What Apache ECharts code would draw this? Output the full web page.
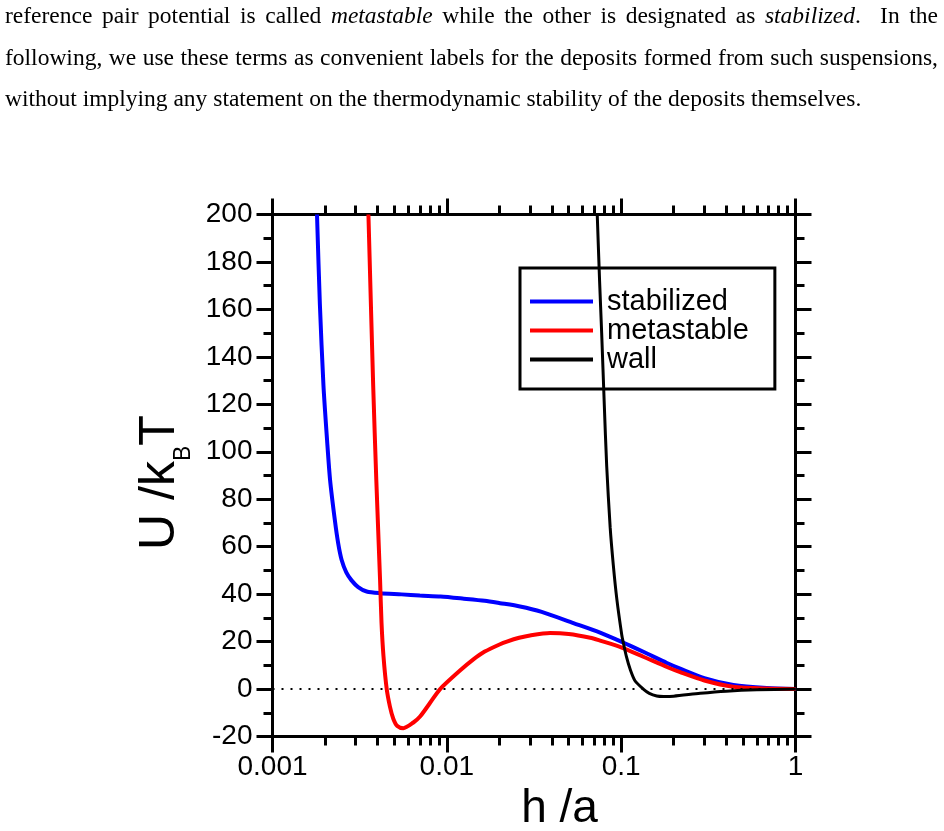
<!DOCTYPE html>
<html>
<head>
<meta charset="utf-8">
<script src="https://cdn.jsdelivr.net/npm/echarts@6/dist/echarts.min.js"></script>
<style>
  html, body { margin: 0; padding: 0; background: #fff; }
  #chart { position: absolute; left: 0; top: 0; width: 944px; height: 831px; }
  #para { position: absolute; left: 5px; top: -5px; width: 933px; font-family: 'Liberation Serif', 'DejaVu Serif', serif; font-size: 23.5px; line-height: 41.5px; color: #000; z-index: 2; }
  .j { text-align: justify; text-align-last: justify; }
  .n { white-space: nowrap; }
</style>
</head>
<body>
<div id="chart"></div>
<div id="para">
  <div class="j">reference pair potential is called <i>metastable</i> while the other is designated as <i>stabilized</i>.&nbsp; In the</div>
  <div class="j">following, we use these terms as convenient labels for the deposits formed from such suspensions,</div>
  <div class="n">without implying any statement on the thermodynamic stability of the deposits themselves.</div>
</div>
<script>
// ---------- data ----------
const seriesNames = ['stabilized', 'metastable', 'wall'];

const stabilizedH = [0.00180, 0.00187, 0.00196, 0.00206, 0.00214, 0.00228, 0.00238, 0.00249, 0.00265, 0.00284, 0.0031, 0.00347, 0.00414, 0.0055, 0.007, 0.0092, 0.0125, 0.0165, 0.0202, 0.0263, 0.035, 0.0532, 0.0757, 0.1, 0.135, 0.183, 0.218, 0.3, 0.44, 0.684, 1.0];
const stabilizedU = [200, 162, 128, 104, 88, 71, 61.5, 54.5, 49.2, 45.8, 43, 41.1, 40.4, 39.9, 39.4, 39.0, 38.1, 37.2, 36.2, 34.8, 32.5, 27.8, 23.8, 20.0, 15.6, 11.0, 8.6, 4.6, 1.7, 0.4, 0];

const metastableH = [0.00355, 0.00378, 0.00394, 0.00414, 0.00422, 0.00433, 0.00452, 0.00472, 0.00493, 0.0052, 0.00563, 0.00643, 0.00702, 0.008, 0.00915, 0.0119, 0.0142, 0.0165, 0.0202, 0.0221, 0.026, 0.03, 0.0391, 0.05, 0.0665, 0.0757, 0.1, 0.135, 0.183, 0.218, 0.3, 0.44, 0.684, 1.0];
const metastableU = [200, 128, 88, 46, 28, 14, 0, -7.5, -12.5, -15.6, -16.5, -14.1, -11.6, -5.9, 0, 7.8, 12.5, 15.8, 18.9, 20.0, 21.6, 22.6, 23.6, 23.2, 21.6, 20.4, 17.6, 13.5, 9.3, 7.1, 3.6, 1.0, 0.2, 0];

const wallH = [0.0729, 0.0752, 0.0773, 0.080, 0.0826, 0.0865, 0.0902, 0.0944, 0.1007, 0.1029, 0.1075, 0.1125, 0.12, 0.134, 0.145, 0.16, 0.175, 0.2, 0.284, 0.4, 0.6, 1.0];
const wallU = [200, 172, 150, 120, 94, 68, 52, 38, 23, 19.5, 13.3, 8.4, 3.5, 0, -1.8, -2.9, -3.1, -3.0, -1.8, -0.9, -0.3, 0];

const xMajorTicks = [0.001, 0.01, 0.1, 1];
const xTickLabels = ['0.001', '0.01', '0.1', '1'];
const xMinorTicks = [0.002, 0.003, 0.004, 0.005, 0.006, 0.007, 0.008, 0.009,
                     0.02, 0.03, 0.04, 0.05, 0.06, 0.07, 0.08, 0.09,
                     0.2, 0.3, 0.4, 0.5, 0.6, 0.7, 0.8, 0.9];
const yMin = -20, yMax = 200, yStep = 20;
const zeroLineValue = 0;

// ---------- chart ----------
const pair = (xs, ys) => xs.map((x, i) => [x, ys[i]]);
const FONT = "'Liberation Sans', Arial, sans-serif";
const axisLineStyle = { color: '#000', width: 3, cap: 'square' };
const majorTick = { show: true, length: 16, inside: false, lineStyle: { color: '#000', width: 3 } };
const LEGEND_ICON = 'path://M0,0H63V4H0Z';

const chart = echarts.init(document.getElementById('chart'), null, { renderer: 'canvas' });

function minorXAxis(position) {
  return {
    type: 'value', position: position, min: -3, max: 0, gridIndex: 0,
    axisLine: { show: false, onZero: false },
    axisTick: { show: true, length: 9, inside: false, lineStyle: { color: '#000', width: 3 },
                customValues: xMinorTicks.map(v => Math.log10(v)) },
    axisLabel: { show: false },
    splitLine: { show: false }
  };
}

const option = {
  animation: false,
  backgroundColor: '#fff',
  grid: { left: 272.5, top: 214.5, width: 523, height: 522, outerBoundsMode: 'none', containLabel: false },
  legend: {
    data: seriesNames.map(n => ({ name: n, icon: LEGEND_ICON })),
    orient: 'vertical',
    left: 520, top: 268,
    padding: [19, 26, 15, 10],
    itemGap: 0,
    itemWidth: 63,
    itemHeight: 29,
    backgroundColor: '#fff',
    borderColor: '#000',
    borderWidth: 3,
    borderRadius: 0,
    textStyle: { fontFamily: FONT, fontSize: 29, color: '#000', padding: [0, 0, 0, 9] }
  },
  xAxis: [
    {
      type: 'log', logBase: 10, min: 0.001, max: 1, position: 'bottom',
      axisLine: { show: true, onZero: false, lineStyle: axisLineStyle },
      axisTick: Object.assign({}, majorTick, { customValues: xMajorTicks }),
      axisLabel: {
        show: true, margin: 17, fontFamily: FONT, fontSize: 28, color: '#000',
        customValues: xMajorTicks,
        formatter: v => xTickLabels[Math.round(Math.log10(v)) + 3]
      },
      splitLine: { show: false },
      name: 'h /a', nameLocation: 'middle', nameGap: 50,
      nameTextStyle: { fontFamily: FONT, fontSize: 46, color: '#000', padding: [0, 0, 0, 51] }
    },
    {
      type: 'log', logBase: 10, min: 0.001, max: 1, position: 'top',
      axisLine: { show: true, onZero: false, lineStyle: axisLineStyle },
      axisTick: Object.assign({}, majorTick, { customValues: xMajorTicks }),
      axisLabel: { show: false },
      splitLine: { show: false }
    },
    minorXAxis('bottom'),
    minorXAxis('top')
  ],
  yAxis: [
    {
      type: 'value', min: yMin, max: yMax, interval: yStep, position: 'left',
      axisLine: { show: true, onZero: false, lineStyle: axisLineStyle },
      axisTick: majorTick,
      minorTick: { show: true, splitNumber: 2, length: 9, lineStyle: { color: '#000', width: 3 } },
      axisLabel: { show: true, margin: 20, fontFamily: FONT, fontSize: 28, color: '#000' },
      splitLine: { show: false },
      name: 'U /k{sub|B}T', nameLocation: 'middle', nameRotate: 90, nameGap: 75,
      nameTextStyle: {
        fontFamily: FONT, fontSize: 50, color: '#000', padding: [0, 14, 0, 0],
        rich: { sub: { fontFamily: FONT, fontSize: 23, color: '#000', padding: [46, 0, 0, 0] } }
      }
    },
    {
      type: 'value', min: yMin, max: yMax, interval: yStep, position: 'right',
      axisLine: { show: true, onZero: false, lineStyle: axisLineStyle },
      axisTick: majorTick,
      minorTick: { show: true, splitNumber: 2, length: 9, lineStyle: { color: '#000', width: 3 } },
      axisLabel: { show: false },
      splitLine: { show: false }
    }
  ],
  series: [
    {
      name: seriesNames[0], type: 'line', xAxisIndex: 0, yAxisIndex: 0,
      data: pair(stabilizedH, stabilizedU),
      showSymbol: false, symbol: 'none', smooth: 0.25,
      lineStyle: { color: '#0000ff', width: 4 }, itemStyle: { color: '#0000ff' },
      z: 2,
      markLine: {
        silent: true, symbol: ['none', 'none'], label: { show: false },
        lineStyle: { color: '#000', type: [2, 7], width: 2 },
        data: [{ yAxis: zeroLineValue }]
      }
    },
    {
      name: seriesNames[1], type: 'line', xAxisIndex: 0, yAxisIndex: 0,
      data: pair(metastableH, metastableU),
      showSymbol: false, symbol: 'none', smooth: 0.25,
      lineStyle: { color: '#ff0000', width: 4 }, itemStyle: { color: '#ff0000' },
      z: 3
    },
    {
      name: seriesNames[2], type: 'line', xAxisIndex: 0, yAxisIndex: 0,
      data: pair(wallH, wallU),
      showSymbol: false, symbol: 'none', smooth: 0.25,
      lineStyle: { color: '#000000', width: 3 }, itemStyle: { color: '#000000' },
      z: 4
    }
  ]
};
chart.setOption(option);
</script>
</body>
</html>
